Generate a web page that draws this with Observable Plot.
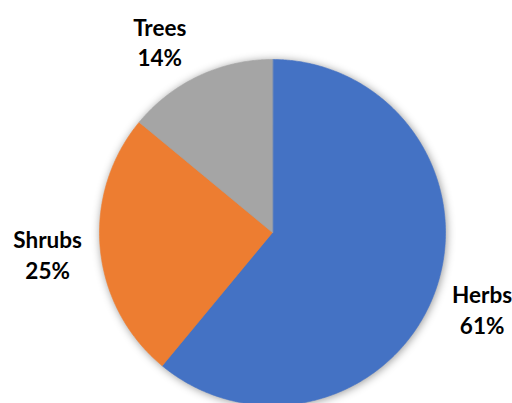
<!DOCTYPE html>
<html>
<head>
<meta charset="utf-8">
<script src="https://cdn.jsdelivr.net/npm/d3@7"></script>
<script src="https://cdn.jsdelivr.net/npm/@observablehq/plot@0.6"></script>
<style>
  html, body { margin: 0; padding: 0; background: #fff; }
  #chart svg { display: block; }
</style>
</head>
<body>
<div id="chart"></div>
<script>
// Data
const categories = ["Herbs", "Shrubs", "Trees"];
const shares = [61, 25, 14];
const colors = ["#4472C4", "#ED7D31", "#A5A5A5"];

// Layout (not data)
const labelRadius = 1.3;
const labelNudge = { Herbs: [-2, 0], Shrubs: [-1, 0], Trees: [-17, 12] }; // pixels
const radiusPx = 173;

const arcs = d3.pie().sort(null).value(d => d.value)(
  categories.map((c, i) => ({ name: c, value: shares[i] }))
);

// slice outlines (geometry sampled along each slice's arc)
const slicePts = [];
for (const a of arcs) {
  slicePts.push({ name: a.data.name, x: 0, y: 0 });
  const n = Math.max(2, Math.ceil((a.endAngle - a.startAngle) / (Math.PI / 360)));
  for (let k = 0; k <= n; k++) {
    const t = a.startAngle + (a.endAngle - a.startAngle) * k / n;
    slicePts.push({ name: a.data.name, x: Math.sin(t), y: Math.cos(t) });
  }
}

const labels = arcs.map(a => {
  const m = (a.startAngle + a.endAngle) / 2;
  const nd = labelNudge[a.data.name];
  return {
    name: a.data.name,
    text: `${a.data.name}\n${a.data.value}%`,
    x: labelRadius * Math.sin(m) + nd[0] / radiusPx,
    y: labelRadius * Math.cos(m) - nd[1] / radiusPx
  };
});

const chart = Plot.plot({
  width: 512,
  height: 403,
  margin: 0,
  style: { background: "#fff" },
  x: { domain: [-1, 1], range: [272 - radiusPx, 272 + radiusPx], axis: null },
  y: { domain: [-1, 1], range: [232 + radiusPx, 232 - radiusPx], axis: null },
  color: { domain: categories, range: colors },
  marks: [
    Plot.line(slicePts, {
      x: "x", y: "y", z: "name",
      fill: "name", stroke: "name", strokeWidth: 0.6,
      curve: "linear-closed"
    }),
    Plot.text(labels, {
      x: "x", y: "y", text: "text",
      fontFamily: "Lato", fontWeight: "bold", fontSize: 22.5,
      lineHeight: 1.35, lineAnchor: "middle", fill: "#000"
    })
  ]
});

d3.select(chart).select("g[aria-label=line]")
  .style("filter", "drop-shadow(1px 1px 4px rgba(0,0,0,0.4))");

document.getElementById("chart").appendChild(chart);
</script>
</body>
</html>
